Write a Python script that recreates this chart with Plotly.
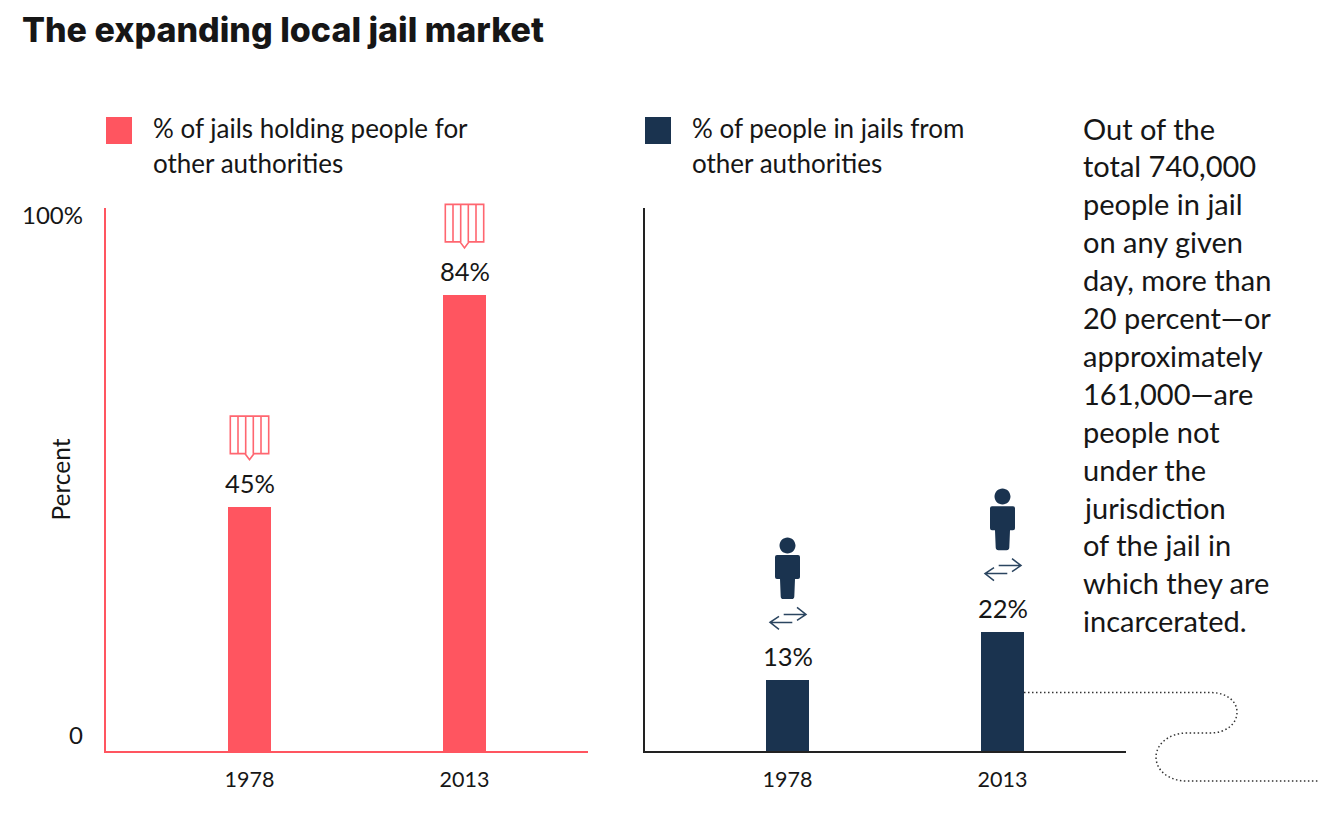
import plotly.graph_objects as go

# ---- data ----
years = ["1978", "2013"]
jails_pct = [45, 84]
people_pct = [13, 22]
title_text = "The expanding local jail market"
legend_left = ["% of jails holding people for", "other authorities"]
legend_right = ["% of people in jails from", "other authorities"]
side_note = ["Out of the", "total 740,000", "people in jail", "on any given", "day, more than",
             "20 percent\u2014or", "approximately", "161,000\u2014are", "people not", "under the",
             "jurisdiction", "of the jail in", "which they are", "incarcerated."]

RED = "#FF5560"
NAVY = "#1A334F"
INK = "#161616"
FONT = "Lato"
W, H = 1318, 820


def px(v):
    return v / W


def py(v):
    return (H - v) / H


TOP, BASE = 208, 751
L1, R1, L2, R2 = 106, 588, 645, 1126
STEP = 215.0


def xrange_for(left, right, first_center):
    return [(left - first_center) / STEP, (right - first_center) / STEP]


def value_to_paper(v):
    return py(BASE) + v / 100 * (py(TOP) - py(BASE))


fig = go.Figure()
fig.add_trace(go.Bar(x=years, y=jails_pct, marker=dict(color=RED, line_width=0), width=0.2,
                     xaxis="x", yaxis="y", showlegend=False))
fig.add_trace(go.Bar(x=years, y=people_pct, marker=dict(color=NAVY, line_width=0), width=0.2,
                     xaxis="x2", yaxis="y2", showlegend=False))

shapes = []
ann = []


def jail_icon(idx, v):
    d = ("M-19.2,90.5 H19.2 V53 H4.5 L0,47 L-4.5,53 H-19.2 Z "
         "M-11.5,90.5 V53 M-3.8,90.5 V53 M3.8,90.5 V53 M11.5,90.5 V53")
    shapes.append(dict(type="path", path=d, xref="x", yref="paper", xsizemode="pixel", ysizemode="pixel",
                       xanchor=idx, yanchor=value_to_paper(v), line=dict(color="#FF6670", width=1.6),
                       fillcolor="rgba(0,0,0,0)", layer="above"))


def person_icon(idx, v):
    k = 4.4
    r = 8
    cy = 135
    head = (f"M{-r},{cy} C{-r},{cy+k} {-k},{cy+r} 0,{cy+r} C{k},{cy+r} {r},{cy+k} {r},{cy} "
            f"C{r},{cy-k} {k},{cy-r} 0,{cy-r} C{-k},{cy-r} {-r},{cy-k} {-r},{cy} Z")
    body = ("M-10.5,125.3 H10.5 Q12.5,125.3 12.5,123.3 V103.3 Q12.5,101.3 10.5,101.3 H7.5 L6.8,84 "
            "Q6.6,81.3 4,81.3 H-4 Q-6.6,81.3 -6.8,84 L-7.5,101.3 H-10.5 Q-12.5,101.3 -12.5,103.3 "
            "V123.3 Q-12.5,125.3 -10.5,125.3 Z")
    shapes.append(dict(type="path", path=head + " " + body, xref="x2", yref="paper", xsizemode="pixel",
                       ysizemode="pixel", xanchor=idx, yanchor=value_to_paper(v),
                       line=dict(width=0), fillcolor=NAVY, layer="above"))
    arrows = ("M-3.8,66 H18.5 M9.5,73 L18.5,66 L9.5,60 "
              "M4.8,58 H-17.5 M-8.5,64 L-17.5,58 L-8.5,51")
    shapes.append(dict(type="path", path=arrows, xref="x2", yref="paper", xsizemode="pixel",
                       ysizemode="pixel", xanchor=idx, yanchor=value_to_paper(v),
                       line=dict(color="#2B4560", width=1.5), fillcolor="rgba(0,0,0,0)", layer="above"))


for i, v in enumerate(jails_pct):
    jail_icon(i, v)
    ann.append(dict(x=i, y=v, xref="x", yref="y", text=f"{v}%", showarrow=False, yshift=24,
                    font=dict(size=25.5, color=INK, family=FONT), yanchor="middle"))
for i, v in enumerate(people_pct):
    person_icon(i, v)
    ann.append(dict(x=i, y=v, xref="x2", yref="y2", text=f"{v}%", showarrow=False, yshift=24,
                    font=dict(size=25.5, color=INK, family=FONT), yanchor="middle"))

# y tick text, offset from the axis ends as in the source
ann.append(dict(x=px(85), xref="paper", y=100, yref="y", yshift=-6, xanchor="right", yanchor="middle",
                text="100%", showarrow=False, font=dict(size=24, color=INK, family=FONT)))
ann.append(dict(x=px(85), xref="paper", y=0, yref="y", yshift=17, xanchor="right", yanchor="middle",
                text="0", showarrow=False, font=dict(size=24, color=INK, family=FONT)))

# hand-made legends
for x0, color, lines in [(106, RED, legend_left), (645, NAVY, legend_right)]:
    shapes.append(dict(type="rect", xref="paper", yref="paper", x0=px(x0), x1=px(x0 + 26),
                       y0=py(144), y1=py(117), fillcolor=color, line_width=0))
    for i, t in enumerate(lines):
        ann.append(dict(x=px(x0 + 45), y=py(128 + 35 * i), xref="paper", yref="paper", text=t,
                        showarrow=False, xanchor="left", yanchor="middle",
                        font=dict(size=26, color=INK, family=FONT)))

# side note
for i, t in enumerate(side_note):
    ann.append(dict(x=px(1081), y=py(128 + 37.9 * i), xref="paper", yref="paper", text=t,
                    showarrow=False, xanchor="left", yanchor="middle",
                    font=dict(size=29, color=INK, family=FONT)))


# dotted connector (pixel geometry converted to paper space)
def P(x, y):
    return f"{px(x):.5f},{py(y):.5f}"


connector = (f"M{P(1024,692.5)} L{P(1210,692.5)} C{P(1228,692.5)} {P(1237,702)} {P(1237,712)} "
             f"C{P(1237,724)} {P(1226,733)} {P(1210,733)} L{P(1187,733)} "
             f"C{P(1168,733)} {P(1156,745)} {P(1156,757)} C{P(1156,770)} {P(1168,781)} {P(1187,781)} "
             f"L{P(1318,781)}")
shapes.append(dict(type="path", path=connector, xref="paper", yref="paper",
                   line=dict(color="#333333", width=1.5, dash="1.5px,2.5px"), layer="above"))

x_common = dict(type="category", showgrid=False, zeroline=False, showline=True, linewidth=1.5,
                ticks="outside", ticklen=0, tickfont=dict(size=21.5, color=INK, family=FONT),
                ticklabelstandoff=8, fixedrange=True)
y_common = dict(range=[0, 100], showgrid=False, zeroline=False, showline=True, linewidth=1.5,
                showticklabels=False, ticks="", fixedrange=True)

fig.update_layout(
    width=W, height=H, margin=dict(l=0, r=0, t=0, b=0, autoexpand=False),
    paper_bgcolor="white", plot_bgcolor="white", bargap=0, showlegend=False,
    title=dict(text=title_text, x=px(22), xanchor="left", xref="paper",
               y=py(30), yanchor="middle", yref="paper",
               font=dict(size=34, color=INK, family="Inter", weight=800)),
    xaxis=dict(domain=[px(L1), px(R1)], range=xrange_for(L1, R1, 249.5), linecolor=RED, anchor="y", **x_common),
    xaxis2=dict(domain=[px(L2), px(R2)], range=xrange_for(L2, R2, 787.5), linecolor="#222222", anchor="y2", **x_common),
    yaxis=dict(domain=[py(BASE), py(TOP)], linecolor=RED, anchor="x",
               title=dict(text="Percent", standoff=27, font=dict(size=24.5, color=INK, family=FONT)), **y_common),
    yaxis2=dict(domain=[py(BASE), py(TOP)], linecolor="#222222", anchor="x2", **y_common),
    shapes=shapes, annotations=ann,
)
fig.write_html("out.html", config=dict(displayModeBar=False),
               post_script="document.documentElement.style.margin='0';document.body.style.margin='0';")
